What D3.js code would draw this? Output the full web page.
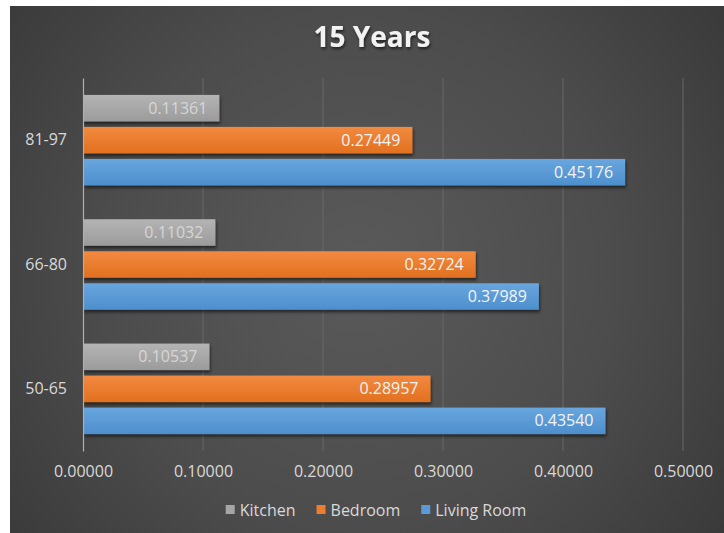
<!DOCTYPE html>
<html>
<head>
<meta charset="utf-8">
<script src="https://cdn.jsdelivr.net/npm/d3@7"></script>
<style>
  html, body { margin: 0; padding: 0; background: #ffffff; }
  svg { display: block; }
  text { font-family: "Open Sans", "Liberation Sans", sans-serif; }
</style>
</head>
<body>
<svg id="chart" width="724" height="533"></svg>
<script>
// Age groups, top to bottom
const categories = ["81-97", "66-80", "50-65"];
const seriesNames = ["Kitchen", "Bedroom", "Living Room"];
const kitchen    = [0.11361, 0.11032, 0.10537];
const bedroom    = [0.27449, 0.32724, 0.28957];
const livingRoom = [0.45176, 0.37989, 0.43540];
const tickValues = [0, 0.1, 0.2, 0.3, 0.4, 0.5];
const title = "15 Years";

const seriesValues = [kitchen, bedroom, livingRoom];
const colors = {
  "Kitchen":     { top: "#b4b4b4", bottom: "#9b9b9b", legend: "#a5a5a5", label: "#d6d6d6" },
  "Bedroom":     { top: "#f28a40", bottom: "#e2701f", legend: "#ed7d31", label: "#f4f4f4" },
  "Living Room": { top: "#68a6de", bottom: "#4d8fcd", legend: "#5b9bd5", label: "#f4f4f4" }
};

const svg = d3.select("#chart");
const defs = svg.append("defs");

// Dark panel with a soft radial light
const bg = defs.append("radialGradient").attr("id", "bg")
  .attr("gradientUnits", "userSpaceOnUse")
  .attr("cx", 360).attr("cy", 270).attr("r", 470);
bg.append("stop").attr("offset", "0%").attr("stop-color", "#5a5a5a");
bg.append("stop").attr("offset", "55%").attr("stop-color", "#4c4c4c");
bg.append("stop").attr("offset", "100%").attr("stop-color", "#383838");

seriesNames.forEach((s, i) => {
  const g = defs.append("linearGradient").attr("id", "bar" + i)
    .attr("x1", 0).attr("y1", 0).attr("x2", 0).attr("y2", 1);
  g.append("stop").attr("offset", "0%").attr("stop-color", colors[s].top);
  g.append("stop").attr("offset", "100%").attr("stop-color", colors[s].bottom);
});

const shadow = defs.append("filter").attr("id", "shadow")
  .attr("x", "-5%").attr("y", "-30%").attr("width", "115%").attr("height", "180%");
shadow.append("feDropShadow").attr("dx", 1).attr("dy", 2.5)
  .attr("stdDeviation", 1.8).attr("flood-color", "#000").attr("flood-opacity", 0.55);

const tshadow = defs.append("filter").attr("id", "tshadow")
  .attr("x", "-10%").attr("y", "-20%").attr("width", "120%").attr("height", "160%");
tshadow.append("feDropShadow").attr("dx", 1).attr("dy", 2)
  .attr("stdDeviation", 1.5).attr("flood-color", "#000").attr("flood-opacity", 0.6);

svg.append("rect").attr("x", 10).attr("y", 6).attr("width", 714).attr("height", 527)
  .attr("fill", "url(#bg)");

// Title
svg.append("text").attr("x", 372).attr("y", 47)
  .attr("text-anchor", "middle")
  .attr("font-size", 28).attr("font-weight", 700)
  .attr("fill", "#f2f2f2").attr("filter", "url(#tshadow)")
  .text(title);

// Scales
const x = d3.scaleLinear().domain([0, 0.5]).range([83, 683]);
const y = d3.scaleBand().domain(categories).range([78, 451])
  .paddingInner(0.272).paddingOuter(0.136);
const yInner = d3.scaleBand().domain(seriesNames).range([0, y.bandwidth()])
  .paddingInner(0.172);

// Gridlines
svg.append("g").selectAll("line")
  .data(tickValues.slice(1)).join("line")
  .attr("x1", d => x(d)).attr("x2", d => x(d))
  .attr("y1", 78).attr("y2", 451)
  .attr("stroke", "#686868").attr("stroke-width", 1);

// Value axis labels
const xAxis = svg.append("g").attr("transform", "translate(0,451)")
  .call(d3.axisBottom(x).tickValues(tickValues).tickFormat(d3.format(".5f"))
    .tickSize(0).tickPadding(15));
xAxis.select(".domain").remove();
xAxis.selectAll("text").attr("font-size", 16).attr("fill", "#d9d9d9")
  .attr("font-family", "'Open Sans', sans-serif");

// Bars
const groups = svg.append("g").selectAll("g")
  .data(categories).join("g")
  .attr("transform", d => `translate(0,${y(d)})`);

const barData = (c, ci) => seriesNames.map((s, si) => ({ cat: c, series: s, si, value: seriesValues[si][ci] }));

groups.selectAll("rect")
  .data((c, ci) => barData(c, ci)).join("rect")
  .attr("x", x(0))
  .attr("y", d => yInner(d.series))
  .attr("width", d => x(d.value) - x(0))
  .attr("height", yInner.bandwidth())
  .attr("fill", d => "url(#bar" + d.si + ")")
  .attr("filter", "url(#shadow)");

groups.selectAll("text")
  .data((c, ci) => barData(c, ci)).join("text")
  .attr("x", d => x(d.value) - 12)
  .attr("y", d => yInner(d.series) + yInner.bandwidth() / 2)
  .attr("dy", "0.35em")
  .attr("text-anchor", "end")
  .attr("font-size", 16)
  .attr("fill", d => colors[d.series].label)
  .text(d => d.value.toFixed(5));

// Category axis
const yAxis = svg.append("g").attr("transform", "translate(83,0)")
  .call(d3.axisLeft(y).tickSize(0).tickPadding(16));
yAxis.select(".domain").attr("stroke", "#b0b0b0").attr("stroke-width", 1.2);
yAxis.selectAll("text").attr("font-size", 16).attr("fill", "#d9d9d9")
  .attr("font-family", "'Open Sans', sans-serif");

// Legend
const legend = svg.append("g");
const items = legend.selectAll("g").data(seriesNames).join("g");
items.append("rect").attr("width", 9).attr("height", 9).attr("y", -5)
  .attr("fill", d => colors[d].legend);
items.append("text").attr("x", 14).attr("dy", "0.35em")
  .attr("font-size", 16).attr("fill", "#d9d9d9").text(d => d);
let cursor = 0;
const widths = [];
items.each(function() {
  const w = 14 + this.querySelector("text").getComputedTextLength();
  widths.push(w);
});
const gap = 21;
const total = d3.sum(widths) + gap * (widths.length - 1);
cursor = 376 - total / 2;
items.attr("transform", (d, i) => {
  const t = `translate(${cursor},510)`;
  cursor += widths[i] + gap;
  return t;
});
</script>
</body>
</html>
